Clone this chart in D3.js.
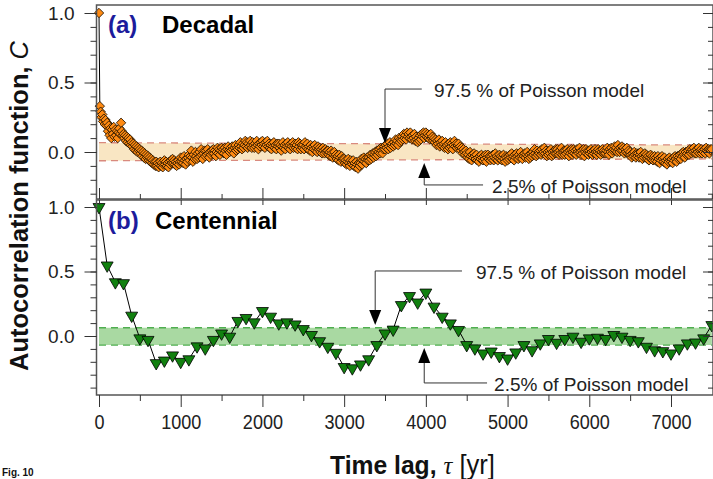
<!DOCTYPE html>
<html>
<head>
<meta charset="utf-8">
<script src="https://cdn.jsdelivr.net/npm/d3@7"></script>
<style>
body { margin: 0; background: #fff; }
svg { display: block; font-family: "Liberation Sans", Arial, sans-serif; }
</style>
</head>
<body>
<script>
// lag step of each series in years
var decadalStep = 10;
var centennialStep = 100;

// (a) decadal autocorrelation, one value every 10 yr, 0..7500
var decadalC = [
  1.00,0.33,0.29,0.25,0.27,0.22,0.24,0.20,0.23,0.19,
  0.21,0.15,0.19,0.12,0.17,0.10,0.16,0.13,0.18,0.11,
  0.16,0.12,0.15,0.10,0.14,0.17,0.13,0.21,0.15,0.12,
  0.13,0.10,0.12,0.08,0.11,0.07,0.10,0.06,0.09,0.05,
  0.07,0.04,0.06,0.02,0.05,0.01,0.04,0.00,0.03,0.01,
  0.02,-0.01,0.01,-0.03,0.00,-0.04,-0.01,-0.05,-0.02,-0.04,
  -0.03,-0.06,-0.04,-0.07,-0.05,-0.08,-0.06,-0.09,-0.07,-0.10,
  -0.07,-0.10,-0.08,-0.11,-0.09,-0.07,-0.10,-0.08,-0.11,-0.09,
  -0.06,-0.09,-0.07,-0.10,-0.08,-0.11,-0.07,-0.09,-0.06,-0.08,
  -0.05,-0.08,-0.06,-0.09,-0.07,-0.10,-0.08,-0.06,-0.09,-0.07,
  -0.04,-0.07,-0.05,-0.08,-0.03,-0.06,-0.09,-0.05,-0.07,-0.04,
  -0.02,-0.06,-0.03,0.01,-0.04,-0.07,-0.02,-0.05,0.00,-0.03,
  -0.05,-0.01,-0.04,0.00,-0.03,0.02,-0.02,-0.05,-0.01,0.01,
  -0.03,0.01,-0.02,0.02,-0.01,-0.04,0.00,-0.02,0.01,-0.01,
  0.02,-0.01,0.01,-0.03,0.00,0.03,-0.01,0.02,-0.02,0.01,
  0.03,0.00,0.02,-0.01,0.03,0.01,-0.02,0.02,0.04,0.01,
  0.00,0.03,0.01,0.04,0.02,-0.01,0.03,0.05,0.01,0.03,
  0.02,0.05,0.03,0.07,0.04,0.02,0.06,0.03,0.05,0.08,
  0.04,0.07,0.03,0.06,0.04,0.08,0.05,0.03,0.07,0.05,
  0.03,0.06,0.04,0.08,0.05,0.02,0.06,0.04,0.07,0.05,
  0.08,0.04,0.06,0.03,0.07,0.05,0.08,0.04,0.06,0.03,
  0.05,0.02,0.06,0.04,0.07,0.03,0.05,0.02,0.06,0.04,
  0.06,0.03,0.05,0.01,0.04,0.07,0.03,0.05,0.02,0.06,
  0.04,0.07,0.03,0.05,0.02,0.06,0.04,0.07,0.03,0.05,
  0.06,0.03,0.05,0.02,0.07,0.04,0.06,0.02,0.05,0.03,
  0.05,0.02,0.07,0.04,0.03,0.06,0.02,0.04,0.01,0.05,
  0.03,0.00,0.04,0.02,0.05,0.01,0.03,0.00,0.04,0.02,
  0.03,0.00,0.02,-0.01,0.03,0.01,-0.01,0.02,0.00,0.01,
  0.01,-0.02,0.00,-0.03,0.01,-0.01,-0.04,-0.02,0.00,-0.03,
  -0.02,-0.05,-0.03,-0.06,-0.02,-0.04,-0.07,-0.03,-0.05,-0.06,
  -0.05,-0.08,-0.06,-0.09,-0.07,-0.05,-0.08,-0.10,-0.06,-0.08,
  -0.09,-0.06,-0.10,-0.08,-0.11,-0.07,-0.09,-0.12,-0.08,-0.10,
  -0.08,-0.05,-0.09,-0.06,-0.04,-0.07,-0.05,-0.08,-0.04,-0.06,
  -0.04,-0.06,-0.02,-0.05,-0.03,-0.01,-0.04,-0.02,0.00,-0.03,
  0.01,-0.02,0.00,0.02,-0.01,0.03,0.01,-0.01,0.02,0.04,
  0.02,0.05,0.03,0.06,0.02,0.04,0.07,0.03,0.05,0.06,
  0.04,0.07,0.05,0.09,0.06,0.08,0.05,0.10,0.07,0.09,
  0.08,0.11,0.09,0.13,0.10,0.12,0.09,0.14,0.11,0.13,
  0.10,0.14,0.11,0.09,0.12,0.10,0.13,0.08,0.11,0.09,
  0.07,0.10,0.08,0.12,0.09,0.13,0.11,0.14,0.10,0.12,
  0.14,0.11,0.13,0.10,0.12,0.09,0.13,0.10,0.11,0.08,
  0.10,0.07,0.09,0.05,0.08,0.06,0.09,0.04,0.07,0.05,
  0.08,0.04,0.06,0.03,0.07,0.04,0.05,0.02,0.06,0.03,
  0.07,0.04,0.06,0.02,0.05,0.08,0.04,0.06,0.03,0.05,
  0.06,0.03,0.04,0.01,0.03,-0.01,0.02,0.00,-0.02,0.01,
  -0.01,-0.04,-0.02,-0.05,0.00,-0.03,-0.06,-0.02,-0.04,-0.01,
  -0.03,-0.05,-0.02,-0.06,-0.04,-0.07,-0.03,-0.05,-0.02,-0.04,
  -0.06,-0.03,-0.05,-0.02,-0.07,-0.04,-0.02,-0.05,-0.03,-0.06,
  -0.03,-0.05,-0.02,-0.06,-0.04,-0.01,-0.05,-0.03,-0.06,-0.04,
  -0.02,-0.05,-0.03,-0.06,-0.04,-0.02,-0.05,-0.07,-0.03,-0.04,
  -0.06,-0.03,-0.05,-0.02,-0.04,-0.01,-0.05,-0.03,-0.06,-0.02,
  -0.04,-0.01,-0.03,-0.05,-0.02,-0.04,0.00,-0.03,-0.05,-0.02,
  -0.03,-0.01,-0.04,-0.02,0.00,-0.03,-0.05,-0.02,-0.04,-0.01,
  -0.03,0.00,-0.02,0.02,-0.01,-0.03,0.01,-0.02,0.00,-0.01,
  0.01,-0.02,0.02,-0.01,0.00,0.03,-0.01,0.01,-0.03,0.00,
  -0.02,0.01,-0.01,0.02,-0.03,0.00,-0.02,0.01,-0.01,0.02,
  -0.01,0.02,0.00,-0.02,0.01,-0.01,0.03,-0.02,0.00,0.01,
  -0.02,0.01,-0.01,0.02,0.00,-0.03,0.01,-0.01,0.02,-0.02,
  0.00,0.02,-0.01,0.01,-0.02,0.02,0.00,-0.01,0.03,0.00,
  -0.02,0.01,-0.01,0.02,-0.03,0.00,0.02,-0.01,0.01,-0.02,
  0.01,-0.01,0.02,0.00,-0.02,0.01,-0.01,0.02,0.00,-0.02,
  0.00,0.02,-0.01,0.01,-0.02,0.00,0.02,-0.01,0.01,-0.01,
  -0.01,0.01,0.03,0.00,-0.02,0.02,0.00,0.03,-0.01,0.01,
  0.02,0.04,0.01,0.03,0.00,0.05,0.02,0.00,0.03,0.01,
  0.04,0.01,0.03,-0.01,0.02,0.00,0.03,-0.01,0.01,-0.02,
  0.00,-0.02,-0.04,-0.01,-0.03,0.00,-0.02,-0.04,-0.01,-0.03,
  -0.01,-0.04,-0.02,0.00,-0.03,-0.05,-0.02,-0.04,-0.01,-0.03,
  -0.02,-0.05,-0.03,-0.06,-0.04,-0.02,-0.05,-0.03,-0.06,-0.04,
  -0.03,-0.06,-0.04,-0.07,-0.03,-0.05,-0.08,-0.04,-0.06,-0.03,
  -0.05,-0.07,-0.04,-0.08,-0.06,-0.09,-0.05,-0.07,-0.04,-0.06,
  -0.07,-0.05,-0.08,-0.04,-0.06,-0.03,-0.05,-0.07,-0.03,-0.05,
  -0.04,-0.02,-0.05,-0.01,-0.03,0.00,-0.02,-0.04,0.00,-0.02,
  -0.01,0.01,-0.02,0.02,0.00,-0.01,0.02,0.00,0.03,-0.01,
  0.01,-0.01,0.02,0.00,0.03,-0.01,0.01,0.02,-0.01,0.01,
  0.00,0.02,-0.01,0.03,0.01,0.00,0.02,-0.01,0.02,0.01,
  0.02
];

// (b) centennial autocorrelation, one value every 100 yr, 0..7500
var centennialC = [
  1.00, 0.547, 0.417, 0.41, 0.158, -0.018, -0.03, -0.21, -0.19, -0.15,
  -0.20, -0.18, -0.08, -0.096, -0.03, 0.02, -0.005, 0.117, 0.14, 0.106,
  0.194, 0.15, 0.098, 0.106, 0.09, 0.054, 0.008, -0.04, -0.083, -0.13,
  -0.24, -0.25, -0.22, -0.18, -0.07, 0.02, 0.05, 0.24, 0.31, 0.26,
  0.337, 0.228, 0.15, 0.098, 0.047, -0.07, -0.096, -0.135, -0.12, -0.155,
  -0.174, -0.127, -0.07, -0.11, -0.057, -0.023, -0.052, -0.023, -0.005, -0.044,
  -0.018, -0.013, -0.023, 0.008, -0.005, -0.03, -0.04, -0.083, -0.11, -0.117,
  -0.135, -0.096, -0.057, -0.05, -0.018, 0.085
];

// 2.5 % and 97.5 % levels of the Poisson model
var bandA = [{lag: 0, lo: -0.063, hi: 0.067}, {lag: 7500, lo: -0.05, hi: 0.05}];
var bandB = [{lag: 0, lo: -0.07, hi: 0.064}, {lag: 7500, lo: -0.07, hi: 0.064}];

var xMajor = [0, 1000, 2000, 3000, 4000, 5000, 6000, 7000];
var xMinor = [500, 1500, 2500, 3500, 4500, 5500, 6500, 7500];
var yMajor = [0, 0.5, 1.0];

var width = 713, height = 479;
var frameL = 96.5, frameR = 713;

var svg = d3.select("body").append("svg")
    .attr("width", width)
    .attr("height", height);

var x = d3.scaleLinear().domain([0, 7000]).range([99, 671]);

var panels = [
  {
    top: 5, bottom: 199,
    y: d3.scaleLinear().domain([0, 1]).range([152, 13]),
    minor: d3.range(-3, 11).map(function(i){ return i / 10; }),
    band: bandA, bandFill: "#f9e6c3", bandLine: "#d98a7e",
    values: decadalC, step: decadalStep,
    label: "(a)", title: "Decadal", labelY: 33, titleX: 162,
    notes: [
      {text: "97.5 % of Poisson model", lag: 3500, tip: 0.065, corner: 0.453, end: 3950, textLag: 4100},
      {text: "2.5% of Poisson model", lag: 3980, tip: -0.079, corner: -0.237, end: 4700, textLag: 4810}
    ]
  },
  {
    top: 200, bottom: 395,
    y: d3.scaleLinear().domain([0, 1]).range([336, 207]),
    minor: d3.range(-4, 11).map(function(i){ return i / 10; }),
    band: bandB, bandFill: "#a9d9a2", bandLine: "#4fae4f",
    values: centennialC, step: centennialStep,
    label: "(b)", title: "Centennial", labelY: 229, titleX: 155,
    notes: [
      {text: "97.5 % of Poisson model", lag: 3380, tip: 0.085, corner: 0.504, end: 4442, textLag: 4614},
      {text: "2.5% of Poisson model", lag: 3980, tip: -0.093, corner: -0.364, end: 4749, textLag: 4835}
    ]
  }
];

function cleanAxis(g) {
  g.select(".domain").remove();
  g.attr("color", "#333");
}

panels.forEach(function(p, k) {
  var g = svg.append("g");
  var y = p.y;

  // poisson band
  g.append("path")
    .datum(p.band)
    .attr("d", d3.area().x(function(d){ return x(d.lag); })
      .y0(function(d){ return y(d.lo); })
      .y1(function(d){ return y(d.hi); }))
    .attr("fill", p.bandFill);
  ["lo", "hi"].forEach(function(key) {
    g.append("path")
      .datum(p.band)
      .attr("d", d3.line().x(function(d){ return x(d.lag); }).y(function(d){ return y(d[key]); }))
      .attr("fill", "none")
      .attr("stroke", p.bandLine)
      .attr("stroke-width", 1.3)
      .attr("stroke-dasharray", "7,5");
  });

  // connecting line
  g.append("path")
    .datum(p.values)
    .attr("d", d3.line().x(function(d, i){ return x(i * p.step); }).y(function(d){ return y(d); }))
    .attr("fill", "none")
    .attr("stroke", "#000")
    .attr("stroke-width", 1);

  // markers
  if (k == 0) {
    g.append("g").selectAll("path")
      .data(p.values)
      .enter().append("path")
      .attr("d", d3.symbol().type(d3.symbolSquare).size(44))
      .attr("transform", function(d, i){ return "translate(" + x(i * p.step) + "," + y(d) + ") rotate(45)"; })
      .attr("fill", "#ff8a12")
      .attr("stroke", "#1e1000")
      .attr("stroke-width", 0.8);
  } else {
    g.append("g").selectAll("path")
      .data(p.values)
      .enter().append("path")
      .attr("d", d3.symbol().type(d3.symbolTriangle).size(62))
      .attr("transform", function(d, i){ return "translate(" + x(i * p.step) + "," + y(d) + ") rotate(180)"; })
      .attr("fill", "#11800f")
      .attr("stroke", "#000")
      .attr("stroke-width", 0.8);
  }

  // frame
  g.append("rect")
    .attr("x", frameL).attr("y", p.top)
    .attr("width", frameR - frameL).attr("height", p.bottom - p.top)
    .attr("fill", "none")
    .attr("stroke", "#555")
    .attr("stroke-width", 1.5);

  // left axis
  g.append("g").attr("transform", "translate(" + frameL + ",0)")
    .call(d3.axisLeft(y).tickValues(p.minor).tickSize(6).tickFormat(""))
    .call(cleanAxis);
  var left = g.append("g").attr("transform", "translate(" + frameL + ",0)")
    .call(d3.axisLeft(y).tickValues(yMajor).tickSize(12).tickPadding(10).tickFormat(d3.format(".1f")))
    .call(cleanAxis);
  left.selectAll("text")
    .style("font-family", '"Liberation Sans", Arial, sans-serif')
    .style("font-size", "19px")
    .attr("fill", "#222");

  // right axis, ticks inside
  g.append("g").attr("transform", "translate(" + frameR + ",0)")
    .call(d3.axisLeft(y).tickValues(p.minor).tickSize(5).tickFormat(""))
    .call(cleanAxis);
  g.append("g").attr("transform", "translate(" + frameR + ",0)")
    .call(d3.axisLeft(y).tickValues(yMajor).tickSize(10).tickFormat(""))
    .call(cleanAxis);

  // x ticks
  if (k == 0) {
    g.append("g").attr("transform", "translate(0," + p.bottom + ")")
      .call(d3.axisTop(x).tickValues(xMinor).tickSize(5).tickFormat(""))
      .call(cleanAxis);
    g.append("g").attr("transform", "translate(0," + p.bottom + ")")
      .call(d3.axisTop(x).tickValues(xMajor).tickSize(11).tickFormat(""))
      .call(cleanAxis);
  } else {
    g.append("g").attr("transform", "translate(0," + p.top + ")")
      .call(d3.axisBottom(x).tickValues(xMajor).tickSize(5).tickFormat(""))
      .call(cleanAxis);
    g.append("g").attr("transform", "translate(0," + p.bottom + ")")
      .call(d3.axisBottom(x).tickValues(xMinor.slice(0, 7)).tickSize(6).tickFormat(""))
      .call(cleanAxis);
    var bottom = g.append("g").attr("transform", "translate(0," + p.bottom + ")")
      .call(d3.axisBottom(x).tickValues(xMajor).tickSize(12).tickPadding(7).tickFormat(d3.format("d")))
      .call(cleanAxis);
    bottom.selectAll("text")
      .style("font-family", '"Liberation Sans", Arial, sans-serif')
      .style("font-size", "21px")
      .attr("fill", "#222")
      .attr("transform", "scale(0.86,1)");
  }

  // annotations with arrows
  p.notes.forEach(function(n) {
    var ax = x(n.lag), tipY = y(n.tip), cornerY = y(n.corner);
    var dir = tipY > cornerY ? 1 : -1;
    var baseY = tipY - dir * 15;
    g.append("path")
      .attr("d", "M" + x(n.end) + "," + cornerY + "H" + ax + "V" + baseY)
      .attr("fill", "none")
      .attr("stroke", "#333")
      .attr("stroke-width", 1);
    g.append("path")
      .attr("d", "M" + ax + "," + tipY + "L" + (ax - 6) + "," + baseY + "L" + (ax + 6) + "," + baseY + "Z")
      .attr("fill", "#000");
    g.append("text")
      .attr("x", x(n.textLag))
      .attr("y", cornerY)
      .attr("dy", "0.42em")
      .attr("font-size", 19)
      .attr("fill", "#222")
      .text(n.text);
  });

  // panel label
  g.append("text")
    .attr("x", 108).attr("y", p.labelY)
    .attr("font-size", 24).attr("font-weight", "bold")
    .attr("fill", "#1c1c9c")
    .text(p.label);
  g.append("text")
    .attr("x", p.titleX).attr("y", p.labelY)
    .attr("font-size", 24).attr("font-weight", "bold")
    .attr("fill", "#000")
    .text(p.title);
});

// y axis title
var yTitle = svg.append("text")
    .attr("transform", "translate(28,206) rotate(-90)")
    .attr("text-anchor", "middle")
    .attr("font-size", 25.5)
    .attr("fill", "#111");
yTitle.append("tspan").attr("font-weight", "bold").text("Autocorrelation function, ");
yTitle.append("tspan").attr("font-style", "italic").text("C");

// x axis title
var xTitle = svg.append("text")
    .attr("transform", "translate(330,474) scale(0.95,1)")
    .attr("font-size", 26)
    .attr("fill", "#111");
xTitle.append("tspan").attr("font-weight", "bold").text("Time lag, ");
xTitle.append("tspan").attr("font-family", '"Liberation Serif", "DejaVu Serif", serif').attr("font-style", "italic").text("τ");
xTitle.append("tspan").attr("font-size", 27).text(" [yr]");

// figure number at the bottom corner
svg.append("text")
    .attr("x", 2).attr("y", 476)
    .attr("font-size", 10).attr("font-weight", "bold")
    .attr("fill", "#111")
    .text("Fig. 10");
</script>
</body>
</html>
